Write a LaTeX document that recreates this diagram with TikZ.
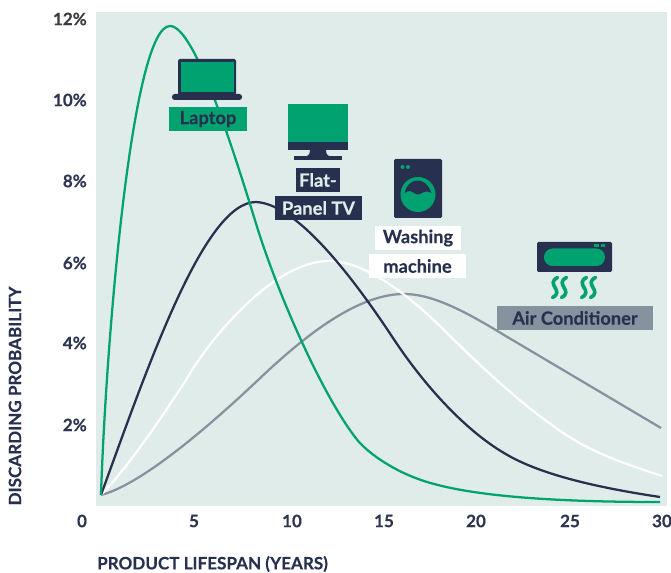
\documentclass[tikz,border=0pt]{standalone}
\usepackage{fontspec}
\setmainfont{Lato}[BoldFont=* Bold,BoldFeatures={FakeBold=0.25}]
\definecolor{navy}{HTML}{27314F}
\definecolor{grn}{HTML}{00A36F}
\definecolor{pan}{HTML}{E0ECE9}
\definecolor{gry}{HTML}{87929F}
\definecolor{tick}{HTML}{2F3550}
\definecolor{topt}{HTML}{3A3C42}
\tikzset{
  curve/.style={line width=1.7pt,line join=round},
  ticklabel/.style={font=\fontsize{12.8}{14}\selectfont\bfseries,text=tick,inner sep=0pt},
  axislabel/.style={font=\fontsize{12.8}{14}\selectfont\bfseries,text=navy,inner sep=0pt},
  tag/.style={font=\fontsize{13.7}{15}\selectfont\bfseries,inner sep=0pt,anchor=center},
  wave/.style={grn,line width=2.7pt,line cap=round},
}
\begin{document}
\begin{tikzpicture}[x=0.75pt,y=-0.75pt]
\useasboundingbox (0,0) rectangle (671,573);
\fill[pan] (96,12) rectangle (667,506);
% curves
\draw[curve,gry] (101,495) .. controls (140,485) and (205,430) .. (256,382)
  .. controls (300,340) and (355,294) .. (404,294)
  .. controls (430,294) and (460,308) .. (504,335)
  -- (661,428);
\draw[curve,white] (101,495) .. controls (128,467) and (160,420) .. (186,380)
  .. controls (212,335) and (275,261) .. (329,261)
  .. controls (370,261) and (420,305) .. (454,340)
  .. controls (490,375) and (530,412) .. (571,438)
  .. controls (600,456) and (635,467) .. (662,476);
\draw[curve,navy] (101,495) .. controls (150,360) and (205,202) .. (256,202)
  .. controls (300,204) and (360,288) .. (395,341)
  .. controls (425,386) and (465,430) .. (504,453)
  .. controls (540,475) and (600,488) .. (660,497);
\draw[curve,grn] (101,495) .. controls (106,340) and (132,26) .. (170,26)
  .. controls (195,26) and (234,152) .. (258,230)
  .. controls (283,308) and (328,405) .. (359,442)
  .. controls (372,456) and (395,471) .. (421,480)
  .. controls (470,497) and (560,502) .. (660,502);
% laptop
\fill[navy,rounded corners=1.5pt] (178,59) rectangle (236,95);
\fill[grn] (181,62) rectangle (234,92);
\fill[navy,rounded corners=2pt] (172,94) -- (242,94) -- (242,100) -- (172,100) -- cycle;
\node[tag,fill=grn,text=navy,minimum width=78pt*0.75,minimum height=24pt*0.75] (laptop) at (208,119) {Laptop};
% TV
\fill[grn] (288,104) rectangle (348,143);
\fill[navy] (288,142.5) rectangle (348,150.5);
\fill[navy] (310,150) .. controls (310,155) and (308,156) .. (304,157) -- (332,157) .. controls (328,156) and (326,155) .. (326,150) -- cycle;
\fill[navy] (294,156.5) rectangle (342,160);
\node[tag,fill=navy,text=pan,minimum width=44pt*0.75,minimum height=24pt*0.75] (flat) at (318,180) {Flat-};
\node[tag,fill=navy,text=pan,minimum width=87pt*0.75,minimum height=24pt*0.75] (panel) at (318.5,208) {Panel TV};
% washer
\fill[navy,rounded corners=1pt] (394,159) rectangle (442,218);
\fill[grn] (402.5,167) circle[radius=2];
\fill[grn] (408,167) circle[radius=2];
\fill[grn] (418,194.5) circle[radius=17.5];
\fill[navy] (404.5,193) .. controls (409,190) and (411,191) .. (414,193) .. controls (417,195) and (419,195) .. (422,193) .. controls (425,191) and (428,191) .. (431.5,193) .. controls (428,184) and (423,180.5) .. (418,180.5) .. controls (412,180.5) and (407,184) .. (404.5,193) -- cycle;
\node[tag,fill=white,text=navy,minimum width=86pt*0.75,minimum height=24pt*0.75] (wash) at (418,238) {Washing};
\node[tag,fill=white,text=navy,minimum width=97pt*0.75,minimum height=24pt*0.75] (mach) at (417.5,266) {machine};
% air conditioner
\fill[navy,rounded corners=1pt] (537,242) rectangle (612,272);
\fill[grn,rounded corners=6.5pt] (544,248.5) rectangle (605,266);
\fill[grn] (594,244) rectangle (599,247);
\fill[grn] (600.5,244) rectangle (605,247);
\foreach \wx in {555,564,584,593}{
  \draw[wave] (\wx+2.5,277.5) .. controls (\wx-10,284) and (\wx+10,291) .. (\wx-2.5,297.5);
}
\node[tag,fill=gry,text=navy,minimum width=156pt*0.75,minimum height=24pt*0.75] (ac) at (575,318) {Air Conditioner};
% tick labels
\node[ticklabel,anchor=east,text=topt] (y12) at (87,19) {12\%};
\node[ticklabel,anchor=east] (y10) at (87,100) {10\%};
\node[ticklabel,anchor=east] (y8) at (87,181) {8\%};
\node[ticklabel,anchor=east] (y6) at (87,263) {6\%};
\node[ticklabel,anchor=east] (y4) at (87,343) {4\%};
\node[ticklabel,anchor=east] (y2) at (87,425) {2\%};
\node[ticklabel] (x0) at (82,521) {0};
\node[ticklabel] (x5) at (194,521) {5};
\node[ticklabel] (x10) at (292,521) {10};
\node[ticklabel] (x15) at (384,521) {15};
\node[ticklabel] (x20) at (476,521) {20};
\node[ticklabel] (x25) at (570,521) {25};
\node[ticklabel] (x30) at (662,521) {30};
\node[axislabel] (xlab) at (212.5,564) {PRODUCT LIFESPAN (YEARS)};
\node[axislabel,rotate=90] (ylab) at (15,396) {DISCARDING PROBABILITY};
\end{tikzpicture}
\end{document}
